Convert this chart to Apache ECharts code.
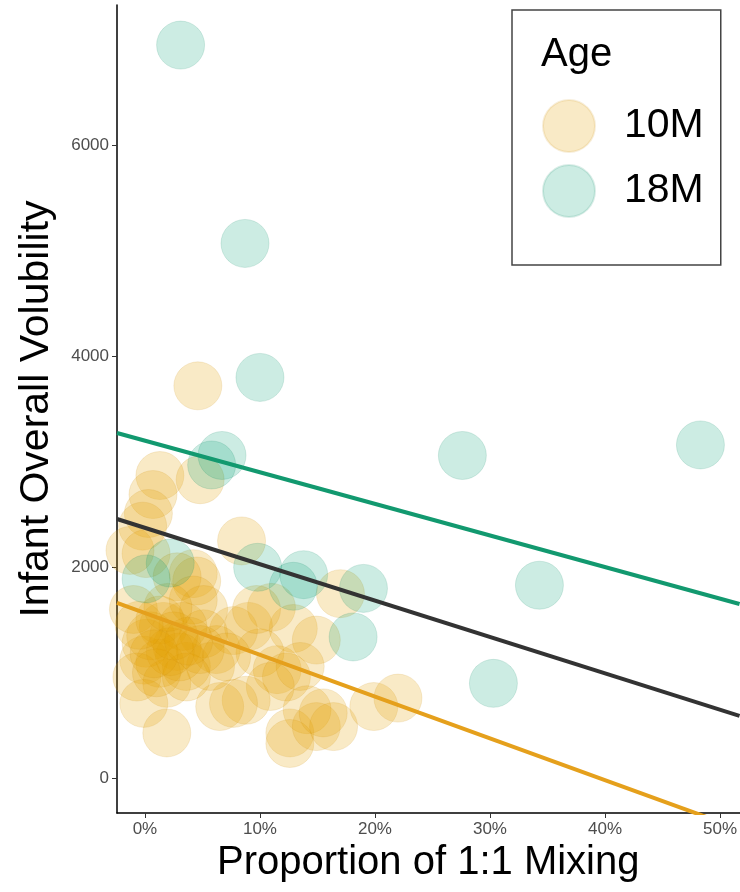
<!DOCTYPE html>
<html>
<head>
<meta charset="utf-8">
<script src="https://cdn.jsdelivr.net/npm/echarts@6/dist/echarts.min.js"></script>
<style>
  html, body { margin: 0; padding: 0; background: #fff; }
  #chart { width: 740px; height: 892px; }
</style>
</head>
<body>
<div id="chart"></div>
<script>
// points: [proportion of 1:1 mixing (%), volubility]
var age10M = [
  [4.6, 3720],
  [1.3, 2870], [4.8, 2830], [0.7, 2690], [0.3, 2510], [-0.2, 2390], [8.4, 2250],
  [-1.3, 2160], [0.1, 2130], [4.2, 1940], [4.5, 1870], [17.0, 1750], [2.8, 1910],
  [11.0, 1620], [12.9, 1420], [14.9, 1310], [9.0, 1440], [10.0, 1190], [11.5, 1030],
  [12.3, 960], [13.5, 1060], [10.9, 870], [8.8, 740], [14.1, 650], [12.6, 430],
  [12.6, 330], [14.9, 490], [16.4, 490], [19.9, 680], [22.0, 760], [15.5, 620],
  [1.6, 1440], [0.1, 1280], [2.8, 1250], [-0.1, 1120], [1.3, 1090], [3.6, 1060],
  [-0.7, 960], [1.9, 900], [-0.1, 710], [1.9, 430], [6.5, 680], [7.7, 710],
  [5.1, 1370], [6.2, 1220], [7.7, 1400], [9.7, 1600], [5.1, 1600], [4.2, 1690],
  [5.7, 1060], [-1.0, 1600], [1.3, 1500], [3.3, 1440], [3.0, 1150], [4.8, 1220],
  [7.1, 1150], [3.6, 960], [0.5, 1350], [2.2, 1200], [1.0, 1000], [2.5, 1350],
  [0.8, 1180], [3.8, 1300], [-0.5, 1450], [2.0, 1620]
];
var age18M = [
  [3.1, 6950], [8.7, 5070], [10.0, 3800], [6.7, 3060], [5.8, 2970], [27.6, 3060],
  [48.3, 3160], [34.3, 1830], [30.3, 900], [9.8, 2000], [13.8, 1930], [12.9, 1820],
  [19.0, 1800], [18.1, 1340], [2.2, 2040], [0.1, 1890]
];
// fitted lines, end points read at the plot edges
var fit10M = [[-2.43, 1662], [51.7, -481]];
var fit18M = [[-2.43, 3273], [51.7, 1652]];
var fitAll = [[-2.43, 2458], [51.7, 591]];

var xTicks = [0, 10, 20, 30, 40, 50];
var yTicks = [0, 2000, 4000, 6000];

var font = 'Liberation Sans, Arial, sans-serif';

var myChart = echarts.init(document.getElementById('chart'));
myChart.setOption({
  animation: false,
  grid: { left: 117, right: 0, top: 5, bottom: 79, containLabel: false },
  title: {
    text: 'Age', left: 536, top: 30,
    textStyle: { fontFamily: font, fontSize: 40, fontWeight: 'normal', color: '#000' }
  },
  legend: {
    data: ['10M', '18M'],
    orient: 'vertical',
    left: 512, top: 10,
    icon: 'circle',
    itemWidth: 52, itemHeight: 52, itemGap: 11,
    padding: [89, 17, 47, 30],
    borderColor: '#444', borderWidth: 1.5,
    textStyle: { fontFamily: font, fontSize: 41, color: '#000', padding: [0, 0, 0, 24] }
  },
  xAxis: {
    type: 'value', min: -2.43, max: 51.7,
    splitLine: { show: false },
    axisLine: { onZero: false, lineStyle: { color: '#000', width: 1.5 } },
    axisTick: { show: true, length: 5, customValues: xTicks, lineStyle: { color: '#333' } },
    axisLabel: { customValues: xTicks, formatter: '{value}%', margin: 8,
      fontFamily: font, fontSize: 17, color: '#4d4d4d' },
    name: 'Proportion of 1:1 Mixing', nameLocation: 'middle', nameGap: 30,
    nameTextStyle: { fontFamily: font, fontSize: 40, color: '#000', verticalAlign: 'top' }
  },
  yAxis: {
    type: 'value', min: -329, max: 7330,
    splitLine: { show: false },
    axisLine: { onZero: false, lineStyle: { color: '#000', width: 1.5 } },
    axisTick: { show: true, length: 5, customValues: yTicks, lineStyle: { color: '#333' } },
    axisLabel: { customValues: yTicks, margin: 8, formatter: function (v) { return String(v); },
      fontFamily: font, fontSize: 17, color: '#4d4d4d' },
    name: 'Infant Overall Volubility', nameLocation: 'middle', nameGap: 60,
    nameTextStyle: { fontFamily: font, fontSize: 41, color: '#000' }
  },
  series: [
    {
      name: '10M', type: 'scatter', data: age10M, symbolSize: 48,
      itemStyle: { color: 'rgba(230,159,0,0.28)', borderColor: 'rgba(200,140,0,0.18)', borderWidth: 1 },
      z: 2
    },
    {
      name: '18M', type: 'scatter', data: age18M, symbolSize: 48,
      itemStyle: { color: 'rgba(0,158,115,0.25)', borderColor: 'rgba(0,130,95,0.18)', borderWidth: 1 },
      z: 2
    },
    {
      name: 'fit10M', type: 'line', data: fit10M, symbol: 'none', clip: true,
      lineStyle: { color: '#E5A01C', width: 4 }, z: 3
    },
    {
      name: 'fit18M', type: 'line', data: fit18M, symbol: 'none', clip: true,
      lineStyle: { color: '#12996F', width: 4 }, z: 3
    },
    {
      name: 'fitAll', type: 'line', data: fitAll, symbol: 'none', clip: true,
      lineStyle: { color: '#333333', width: 4 }, z: 3
    }
  ]
});
</script>
</body>
</html>
